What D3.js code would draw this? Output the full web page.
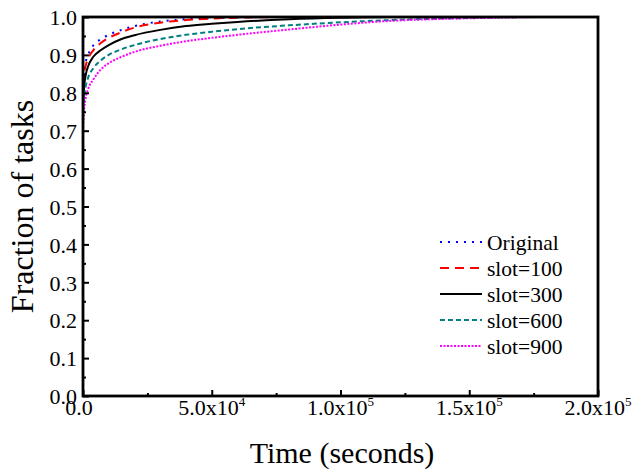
<!DOCTYPE html>
<html><head><meta charset="utf-8">
<script src="https://cdn.jsdelivr.net/npm/d3@7"></script>
<style>body{margin:0;background:#fff}svg{display:block}text{font-family:"Liberation Serif","Times New Roman",serif;fill:#000}</style>
</head><body>
<script>
const times = [0, 500, 1000, 2000, 4000, 7000, 10000, 15000, 20000, 30000, 40000, 50000, 60000, 80000, 100000, 120000, 140000, 160000, 180000, 200000];
const original = [0.80, 0.86, 0.88, 0.90, 0.925, 0.942, 0.953, 0.966, 0.976, 0.988, 0.994, 0.997, 0.999, 1.0, 1.0, 1.0, 1.0, 1.0, 1.0, 1.0];
const slot100 = [0.78, 0.85, 0.87, 0.89, 0.912, 0.932, 0.945, 0.96, 0.972, 0.985, 0.992, 0.996, 0.998, 1.0, 1.0, 1.0, 1.0, 1.0, 1.0, 1.0];
const slot300 = [0.76, 0.82, 0.845, 0.87, 0.895, 0.913, 0.926, 0.942, 0.952, 0.966, 0.976, 0.982, 0.987, 0.994, 0.998, 1.0, 1.0, 1.0, 1.0, 1.0];
const slot600 = [0.73, 0.79, 0.815, 0.84, 0.865, 0.886, 0.90, 0.915, 0.926, 0.942, 0.953, 0.961, 0.968, 0.978, 0.986, 0.992, 0.996, 0.999, 1.0, 1.0];
const slot900 = [0.71, 0.76, 0.785, 0.81, 0.835, 0.862, 0.878, 0.895, 0.908, 0.924, 0.936, 0.945, 0.953, 0.967, 0.98, 0.99, 0.995, 0.998, 1.0, 1.0];
const seriesNames = ["Original", "slot=100", "slot=300", "slot=600", "slot=900"];
const seriesColors = ["#0000ff", "#ff0000", "#000000", "#008080", "#ff00ff"];
const seriesDash = ["2,6", "9,6", null, "5,3", "2,1.5"];
const xTicks = [0, 50000, 100000, 150000, 200000];
const xTickMant = ["0.0", "5.0x10", "1.0x10", "1.5x10", "2.0x10"];
const xTickExp = ["", "4", "5", "5", "5"];
const yTicks = [0, 0.1, 0.2, 0.3, 0.4, 0.5, 0.6, 0.7, 0.8, 0.9, 1.0];

const W = 632, H = 471;
const L = 83, R = 598, T = 17, B = 396;
const svg = d3.select("body").append("svg").attr("width", W).attr("height", H);
const x = d3.scaleLinear().domain([0, 200000]).range([L, R]);
const y = d3.scaleLinear().domain([0, 1]).range([B, T]);

const allSeries = [original, slot100, slot300, slot600, slot900];
const line = d3.line().x((d, i) => x(times[i])).y(d => y(d)).curve(d3.curveMonotoneX);
const g = svg.append("g");
allSeries.forEach((s, k) => {
  g.append("path").datum(s).attr("d", line).attr("fill", "none")
    .attr("stroke", seriesColors[k]).attr("stroke-width", 2)
    .attr("stroke-dasharray", seriesDash[k]);
});

// frame
svg.append("rect").attr("x", L).attr("y", T).attr("width", R - L).attr("height", B - T)
  .attr("fill", "none").attr("stroke", "#000").attr("stroke-width", 2.8);

// y axis
const yAxis = d3.axisLeft(y).tickValues(yTicks).tickFormat(d3.format(".1f")).tickSizeInner(-6).tickSizeOuter(0).tickPadding(6);
const ya = svg.append("g").attr("transform", `translate(${L},0)`).call(yAxis);
ya.select(".domain").remove();
ya.selectAll("line").attr("stroke", "#000").attr("stroke-width", 2);
ya.selectAll("text").style("font-size", "22px").attr("font-family", "Liberation Serif").attr("dy", "0.35em").attr("x", -6);
const yMinor = d3.range(0.05, 1, 0.1);
const yma = svg.append("g").attr("transform", `translate(${L},0)`).call(d3.axisLeft(y).tickValues(yMinor).tickSizeInner(-3).tickSizeOuter(0).tickFormat(""));
yma.select(".domain").remove();
yma.selectAll("line").attr("stroke", "#000").attr("stroke-width", 2);

// x axis
const xAxis = d3.axisBottom(x).tickValues(xTicks).tickFormat("").tickSizeInner(-6).tickSizeOuter(0);
const xa = svg.append("g").attr("transform", `translate(0,${B})`).call(xAxis);
xa.select(".domain").remove();
xa.selectAll("line").attr("stroke", "#000").attr("stroke-width", 2);
const xma = svg.append("g").attr("transform", `translate(0,${B})`).call(d3.axisBottom(x).tickValues([25000, 75000, 125000, 175000]).tickFormat("").tickSizeInner(-3).tickSizeOuter(0));
xma.select(".domain").remove();
xma.selectAll("line").attr("stroke", "#000").attr("stroke-width", 2);

xTicks.forEach((v, i) => {
  const t = svg.append("text").attr("x", i === 0 ? x(v) - 4 : x(v)).attr("y", B + 19).attr("text-anchor", "middle").style("font-size", "22px");
  t.append("tspan").text(xTickMant[i]);
  if (xTickExp[i]) t.append("tspan").attr("dy", -9).style("font-size", "13px").text(xTickExp[i]);
});

// titles
svg.append("text").attr("x", 342).attr("y", 463).attr("text-anchor", "middle").style("font-size", "30px").text("Time (seconds)");
svg.append("text").attr("transform", `translate(33,${(T + B) / 2}) rotate(-90)`).attr("text-anchor", "middle").style("font-size", "32px").text("Fraction of tasks");

// legend
const legY0 = 242, legDY = 26;
seriesNames.forEach((n, k) => {
  const yy = legY0 + k * legDY;
  svg.append("line").attr("x1", 440).attr("x2", 482).attr("y1", yy).attr("y2", yy)
    .attr("stroke", seriesColors[k]).attr("stroke-width", 2).attr("stroke-dasharray", seriesDash[k]);
  svg.append("text").attr("x", 487).attr("y", yy).attr("dy", "0.35em").style("font-size", "21.5px").text(n);
});
</script>
</body></html>
